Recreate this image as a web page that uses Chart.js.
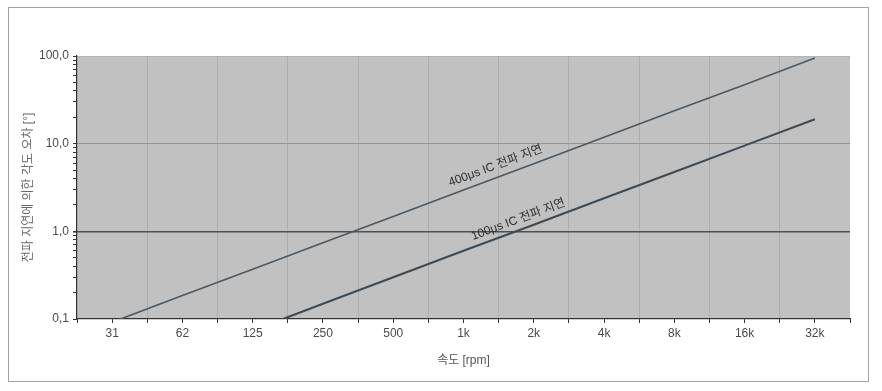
<!DOCTYPE html>
<html>
<head>
<meta charset="utf-8">
<script src="https://cdn.jsdelivr.net/npm/chart.js@4/dist/chart.umd.min.js"></script>
<style>
  html, body { margin: 0; padding: 0; background: #ffffff; }
  #wrap { position: relative; width: 882px; height: 391px; }
  #frame { position: absolute; left: 8px; top: 7px; width: 861px; height: 375px; border: 1px solid #a3a3a3; box-sizing: border-box; }
  #c { position: absolute; left: 0; top: 0; }
</style>
</head>
<body>
<div id="wrap">
  <div id="frame"></div>
  <canvas id="c" width="882" height="391"></canvas>
</div>
<script>
// ---- data ----
const speedRpm   = [31.25, 62.5, 125, 250, 500, 1000, 2000, 4000, 8000, 16000, 32000];
const xTickLabels = ['31', '62', '125', '250', '500', '1k', '2k', '4k', '8k', '16k', '32k'];
const err400us   = [0.092, 0.185, 0.37, 0.74, 1.48, 2.96, 5.9, 11.8, 23.7, 47, 95];
const err100us   = [0.0186, 0.037, 0.074, 0.149, 0.30, 0.60, 1.19, 2.38, 4.76, 9.5, 19];
const yTickValues = [0.1, 1, 10, 100];
const yTickLabels = ['0,1', '1,0', '10,0', '100,0'];
const seriesNames = ['400μs IC 전파 지연', '100μs IC 전파 지연'];
const labelAnchors = [{ x: 1371, y: 5.58 }, { x: 1718, y: 1.36 }];

const FONT = "'Liberation Sans', 'Noto Sans CJK KR', sans-serif";

// x ticks: label positions plus midpoints (grid lines sit at midpoints)
const xMin = speedRpm[0] / Math.SQRT2;
const xMax = speedRpm[speedRpm.length - 1] * Math.SQRT2;
const xAllTicks = [];
speedRpm.forEach(v => { xAllTicks.push(v / Math.SQRT2); xAllTicks.push(v); });
xAllTicks.push(xMax);
const isLabelTick = v => speedRpm.some(s => Math.abs(s - v) / s < 1e-6);

// y ticks: decades plus minor ticks
const yAllTicks = [];
for (let d = 0; d < 3; d++) {
  const base = yTickValues[d];
  for (let k = 1; k < 10; k++) yAllTicks.push(+(base * k).toPrecision(6));
}
yAllTicks.push(100);
const near = (a, b) => Math.abs(a - b) / b < 1e-6;

const bgPlugin = {
  id: 'plotBg',
  beforeDraw(chart) {
    const { ctx, chartArea: a } = chart;
    ctx.save();
    ctx.fillStyle = '#c2c1c2';
    ctx.fillRect(a.left, a.top, a.right - a.left, a.bottom - a.top);
    ctx.strokeStyle = '#b3b3b3';
    ctx.lineWidth = 1;
    ctx.beginPath();
    ctx.moveTo(a.left, a.top + 0.5); ctx.lineTo(a.right, a.top + 0.5);
    ctx.stroke();
    ctx.restore();
  }
};

const lineLabelPlugin = {
  id: 'lineLabels',
  afterDatasetsDraw(chart) {
    const { ctx } = chart;
    const xs = chart.scales.x, ys = chart.scales.y;
    chart.data.datasets.forEach((ds, i) => {
      const p1x = xs.getPixelForValue(speedRpm[5]), p1y = ys.getPixelForValue(ds.data[5].y);
      const p2x = xs.getPixelForValue(speedRpm[6]), p2y = ys.getPixelForValue(ds.data[6].y);
      const ang = Math.atan2(p2y - p1y, p2x - p1x);
      const cx = xs.getPixelForValue(labelAnchors[i].x);
      const cy = ys.getPixelForValue(labelAnchors[i].y);
      ctx.save();
      ctx.translate(cx, cy);
      ctx.rotate(ang);
      ctx.fillStyle = '#2f2f2f';
      ctx.font = '12px ' + FONT;
      ctx.textAlign = 'center';
      ctx.textBaseline = 'middle';
      ctx.fillText(seriesNames[i], 0, 0);
      ctx.restore();
    });
  }
};

new Chart(document.getElementById('c'), {
  type: 'line',
  data: {
    datasets: [
      {
        label: seriesNames[0],
        data: speedRpm.map((x, i) => ({ x, y: err400us[i] })),
        borderColor: '#4b5862',
        borderWidth: 1.6,
        pointRadius: 0,
        tension: 0,
        fill: false
      },
      {
        label: seriesNames[1],
        data: speedRpm.map((x, i) => ({ x, y: err100us[i] })),
        borderColor: '#3e4a54',
        borderWidth: 2.1,
        pointRadius: 0,
        tension: 0,
        fill: false
      }
    ]
  },
  options: {
    responsive: false,
    animation: false,
    devicePixelRatio: 1,
    layout: { padding: { left: 8, right: 32, top: 56, bottom: 8 } },
    plugins: { legend: { display: false }, tooltip: { enabled: false } },
    scales: {
      x: {
        type: 'logarithmic',
        min: xMin,
        max: xMax,
        afterBuildTicks(scale) { scale.ticks = xAllTicks.map(v => ({ value: v })); },
        afterFit(scale) { scale.height = 64; },
        ticks: {
          autoSkip: false,
          maxRotation: 0,
          minRotation: 0,
          padding: 3,
          color: '#4a4a4a',
          font: { family: FONT, size: 12 },
          callback(value) {
            const idx = speedRpm.findIndex(s => Math.abs(s - value) / s < 1e-6);
            return idx >= 0 ? xTickLabels[idx] : '';
          }
        },
        grid: {
          color(ctx) {
            const v = ctx.tick && ctx.tick.value;
            if (v === undefined) return 'rgba(0,0,0,0)';
            if (near(v, xMin) || near(v, xMax)) return 'rgba(0,0,0,0)';
            return isLabelTick(v) ? 'rgba(0,0,0,0)' : '#adadad';
          },
          tickColor: '#333333',
          tickLength: 4,
          lineWidth: 1
        },
        border: { display: true, color: '#333333', width: 1.2 },
        title: {
          display: true,
          text: '속도 [rpm]',
          color: '#555555',
          font: { family: FONT, size: 12 },
          padding: { top: 0, bottom: 15 }
        }
      },
      y: {
        type: 'logarithmic',
        min: 0.1,
        max: 100,
        afterBuildTicks(scale) { scale.ticks = yAllTicks.map(v => ({ value: v })); },
        afterFit(scale) { scale.width = 69; },
        ticks: {
          autoSkip: false,
          padding: 4,
          color: '#4a4a4a',
          font: { family: FONT, size: 12 },
          callback(value) {
            const idx = yTickValues.findIndex(s => near(value, s));
            return idx >= 0 ? yTickLabels[idx] : '';
          }
        },
        grid: {
          color(ctx) {
            const v = ctx.tick && ctx.tick.value;
            if (v === undefined) return 'rgba(0,0,0,0)';
            if (near(v, 10)) return '#949494';
            if (near(v, 1)) return '#4f4f4f';
            return 'rgba(0,0,0,0)';
          },
          lineWidth(ctx) {
            const v = ctx.tick && ctx.tick.value;
            return (v !== undefined && near(v, 1)) ? 1.6 : 1;
          },
          tickColor: '#333333',
          tickLength: 4
        },
        border: { display: true, color: '#333333', width: 1.2 },
        title: {
          display: true,
          text: '전파 지연에 의한 각도 오차 [°]',
          color: '#666666',
          font: { family: FONT, size: 12 },
          padding: { top: 13, bottom: 0 }
        }
      }
    }
  },
  plugins: [bgPlugin, lineLabelPlugin]
});
</script>
</body>
</html>
